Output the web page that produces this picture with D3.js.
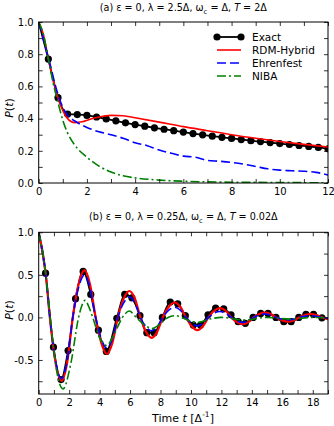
<!DOCTYPE html>
<html>
<head>
<meta charset="utf-8">
<script src="https://cdnjs.cloudflare.com/ajax/libs/d3/7.8.5/d3.min.js"></script>
<style>
  body { margin: 0; background: #fff; }
  text { font-family: "DejaVu Sans", sans-serif; fill: #000; }
</style>
</head>
<body>
<script>

// ---- panel (a) ----
var aExactT = [0, 0.4, 0.8, 1.2, 1.6, 2.0, 2.4, 2.8, 3.2, 3.6, 4.0, 4.4, 4.8, 5.2, 5.6, 6.0,
               6.4, 6.8, 7.2, 7.6, 8.0, 8.4, 8.8, 9.2, 9.6, 10.0, 10.4, 10.8, 11.2, 11.6, 12.0];
var aExactP = [1.0, 0.77, 0.53, 0.428, 0.425, 0.42, 0.41, 0.398, 0.386, 0.374, 0.363, 0.353, 0.343, 0.334, 0.325, 0.316,
               0.307, 0.299, 0.291, 0.284, 0.277, 0.270, 0.263, 0.257, 0.251, 0.245, 0.239, 0.233, 0.227, 0.221, 0.212];

var aRdmT = [0, 0.2, 0.4, 0.6, 0.8, 1.0, 1.2, 1.5, 1.8, 2.1, 2.5, 3.0, 3.5, 4.0, 5.0, 6.0, 7.0, 8.0, 9.0, 10.0, 11.0, 12.0];
var aRdmP = [1.0, 0.92, 0.77, 0.64, 0.53, 0.45, 0.40, 0.375, 0.38, 0.395, 0.41, 0.42, 0.418, 0.405, 0.378, 0.35, 0.325, 0.30, 0.278, 0.258, 0.24, 0.224];

var aEhrT = [0, 0.4, 0.8, 1.0, 1.2, 1.5, 2.0, 2.5, 3.0, 3.5, 4.0, 4.5, 5.0, 5.5, 6.0, 6.5, 7.0, 7.5, 8.0, 8.5, 9.0, 9.5, 10.0, 10.5, 11.0, 11.5, 12.0];
var aEhrP = [1.0, 0.78, 0.55, 0.47, 0.42, 0.385, 0.345, 0.318, 0.30, 0.278, 0.25, 0.232, 0.205, 0.185, 0.167, 0.16, 0.14, 0.135, 0.128, 0.117, 0.103, 0.088, 0.08, 0.076, 0.073, 0.066, 0.05];

var aNibaT = [0, 0.2, 0.4, 0.6, 0.8, 1.0, 1.2, 1.5, 2.0, 2.5, 3.0, 3.5, 4.0, 5.0, 6.0, 7.0, 8.0, 9.0, 10.0, 11.0, 12.0];
var aNibaP = [1.0, 0.92, 0.77, 0.62, 0.50, 0.39, 0.31, 0.235, 0.16, 0.105, 0.068, 0.045, 0.032, 0.018, 0.011, 0.007, 0.005, 0.004, 0.003, 0.002, 0.002];

// ---- panel (b) ----
var bExactT = [0, 0.45, 0.97, 1.47, 1.93, 2.42, 2.92, 3.42, 3.92, 4.44, 5.13, 5.65, 6.12, 6.65, 7.1, 7.58, 8.12, 8.64, 9.13,
               9.63, 10.15, 10.63, 11.12, 11.62, 12.15, 12.63, 13.1, 13.57, 14.08, 14.58, 15.06, 15.58, 16.1, 16.58, 17.08,
               17.55, 18.05, 18.6];
var bExactP = [1.0, 0.52, -0.35, -0.73, -0.39, 0.22, 0.54, 0.27, -0.15, -0.40, -0.01, 0.27, 0.23, 0.02, -0.18, -0.18, 0.0, 0.18, 0.16,
               0.02, -0.09, -0.09, 0.03, 0.11, 0.10, 0.03, -0.05, -0.07, 0.0, 0.047, 0.047, 0.0, -0.05, -0.05, 0.0,
               0.035, 0.035, -0.005];

var bRdmT = [0, 0.45, 0.73, 1.1, 1.5, 1.87, 2.24, 2.62, 3.0, 3.37, 3.74, 4.11, 4.48, 4.84, 5.2, 5.58, 5.95, 6.32, 6.68,
             7.05, 7.42, 7.78, 8.15, 8.54, 8.93, 9.3, 9.67, 10.05, 10.42, 10.78, 11.15, 11.52, 11.9, 12.28, 12.65,
             13.02, 13.4, 13.76, 14.12, 14.48, 14.85, 15.22, 15.6, 16.0, 16.38, 16.74, 17.1, 17.48, 17.85, 18.22, 18.6, 19.0];
var bRdmP = [1.0, 0.53, 0.0, -0.52, -0.745, -0.53, 0.0, 0.39, 0.555, 0.39, 0.0, -0.30, -0.43, -0.30, 0.0, 0.22, 0.31, 0.22, 0.0,
             -0.17, -0.24, -0.17, 0.0, 0.125, 0.175, 0.125, 0.0, -0.105, -0.15, -0.105, 0.0, 0.078, 0.11, 0.078, 0.0,
             -0.056, -0.08, -0.056, 0.0, 0.039, 0.055, 0.039, 0.0, -0.035, -0.05, -0.035, 0.0, 0.028, 0.04, 0.028, 0.0, -0.02];

var bEhrT = bRdmT;
var bEhrP = [1.0, 0.53, 0.0, -0.51, -0.72, -0.51, 0.0, 0.35, 0.50, 0.35, 0.0, -0.25, -0.36, -0.25, 0.0, 0.17, 0.24, 0.17, 0.0,
             -0.11, -0.16, -0.11, 0.0, 0.085, 0.12, 0.085, 0.0, -0.07, -0.10, -0.07, 0.0, 0.05, 0.07, 0.05, 0.0,
             -0.042, -0.06, -0.042, 0.0, 0.028, 0.04, 0.028, 0.0, -0.021, -0.03, -0.021, 0.0, 0.014, 0.02, 0.014, 0.0, -0.01];

var bNibaT = [0, 0.45, 0.75, 1.15, 1.6, 2.1, 2.62, 2.82, 3.05, 3.28, 3.55, 4.0, 4.45, 4.95, 5.5, 5.95, 6.4, 6.95, 7.45, 7.95,
              8.5, 9.0, 9.5, 10.4, 11.2, 12.0, 13.5, 15.0, 16.5, 18.0, 19.0];
var bNibaP = [1.0, 0.53, 0.0, -0.6, -0.84, -0.55, 0.0, 0.13, 0.20, 0.13, 0.0, -0.24, -0.33, -0.2, 0.0, 0.075, 0.0, -0.09, -0.13, -0.08,
              0.0, 0.02, -0.01, -0.06, -0.02, 0.0, -0.03, 0.0, -0.02, 0.0, -0.005];

var legendNames = ["Exact", "RDM-Hybrid", "Ehrenfest", "NIBA"];

var W = 334, H = 426;
var plotLeft = 38.7, plotRight = 328;

var svg = d3.select("body").append("svg")
            .attr("width", W)
            .attr("height", H);

function pts(t, p) { return d3.zip(t, p); }

function drawPanel(o) {
    var x = d3.scaleLinear().domain(o.xDomain).range([plotLeft, plotRight]);
    var y = d3.scaleLinear().domain(o.yDomain).range([o.bottom, o.top]);
    var g = svg.append("g");

    g.append("clipPath").attr("id", o.id + "clip")
     .append("rect")
     .attr("x", plotLeft).attr("y", o.top)
     .attr("width", plotRight - plotLeft).attr("height", o.bottom - o.top);

    var plot = g.append("g").attr("clip-path", "url(#" + o.id + "clip)");

    var line = d3.line()
                 .x(d => x(d[0]))
                 .y(d => y(d[1]))
                 .curve(d3.curveMonotoneX);

    plot.append("path").datum(pts(o.exactT, o.exactP))
        .attr("d", line).attr("fill", "none")
        .attr("stroke", "#000").attr("stroke-width", 1.8);

    plot.selectAll("circle.ex")
        .data(pts(o.exactT, o.exactP).slice(1))
        .enter().append("circle")
        .attr("class", "ex")
        .attr("cx", d => x(d[0]))
        .attr("cy", d => y(d[1]))
        .attr("r", 3.6)
        .attr("fill", "#000");

    plot.append("path").datum(pts(o.rdmT, o.rdmP))
        .attr("d", line).attr("fill", "none")
        .attr("stroke", "#ff0000").attr("stroke-width", o.redWidth);

    plot.append("path").datum(pts(o.ehrT, o.ehrP))
        .attr("d", line).attr("fill", "none")
        .attr("stroke", "#0000ff").attr("stroke-width", 1.6)
        .attr("stroke-dasharray", "9,4");

    plot.append("path").datum(pts(o.nibaT, o.nibaP))
        .attr("d", line).attr("fill", "none")
        .attr("stroke", "#008000").attr("stroke-width", 1.6)
        .attr("stroke-dasharray", "9,3,2,3");

    // axes, ticks pointing inward on all four sides
    g.append("g").attr("transform", "translate(0," + o.bottom + ")")
     .call(d3.axisBottom(x).tickValues(o.xTicks).tickSize(-4).tickPadding(5).tickFormat(o.xFmt));
    g.append("g").attr("transform", "translate(0," + o.top + ")")
     .call(d3.axisTop(x).tickValues(o.xTicks).tickSize(-4).tickFormat(""));
    g.append("g").attr("transform", "translate(" + plotLeft + ",0)")
     .call(d3.axisLeft(y).tickValues(o.yTicks).tickSize(-4).tickPadding(5).tickFormat(o.yFmt));
    g.append("g").attr("transform", "translate(" + plotRight + ",0)")
     .call(d3.axisRight(y).tickValues(o.yTicks).tickSize(-4).tickFormat(""));

    g.selectAll(".domain").remove();
    g.selectAll(".tick line").attr("stroke", "#000").attr("stroke-width", 0.8);
    g.selectAll(".tick text").attr("font-size", 10).attr("font-family", "DejaVu Sans").attr("fill", "#000");

    g.append("rect")
     .attr("x", plotLeft).attr("y", o.top)
     .attr("width", plotRight - plotLeft).attr("height", o.bottom - o.top)
     .attr("fill", "none").attr("stroke", "#000").attr("stroke-width", 1);

    // title
    var tt = g.append("text")
              .attr("x", (plotLeft + plotRight) / 2)
              .attr("y", o.titleY)
              .attr("text-anchor", "middle")
              .attr("font-size", 9.6);
    tt.append("tspan").text(o.title[0]);
    tt.append("tspan").attr("font-size", 6.8).attr("dy", 3).text("c");
    tt.append("tspan").attr("dy", -3).text(" = \u0394, ");
    tt.append("tspan").attr("font-style", "italic").text("T");
    tt.append("tspan").text(o.title[1]);

    // y label
    var yl = g.append("text")
              .attr("transform", "translate(" + 13 + "," + o.yLabelY + ") rotate(-90)")
              .attr("text-anchor", "middle")
              .attr("font-size", 11);
    yl.append("tspan").attr("font-style", "italic").text("P");
    yl.append("tspan").text("(");
    yl.append("tspan").attr("font-style", "italic").text("t");
    yl.append("tspan").text(")");

    return {x: x, y: y, g: g};
}

var fmt1 = d => d.toFixed(1);

drawPanel({
    id: "a", top: 22, bottom: 183,
    xDomain: [0, 12], yDomain: [0, 1],
    xTicks: d3.range(0, 13, 1),
    xFmt: d => (d % 2 === 0 ? d : ""),
    yTicks: d3.range(0, 11).map(d => d / 10),
    yFmt: d => (Math.round(d * 10) % 2 === 0 ? fmt1(d) : ""),
    exactT: aExactT, exactP: aExactP,
    rdmT: aRdmT, rdmP: aRdmP,
    ehrT: aEhrT, ehrP: aEhrP,
    nibaT: aNibaT, nibaP: aNibaP,
    redWidth: 1.6,
    titleY: 11,
    title: ["(a) \u03b5 = 0, \u03bb = 2.5\u0394, \u03c9", " = 2\u0394"],
    yLabelY: 108
});

drawPanel({
    id: "b", top: 232.3, bottom: 394,
    xDomain: [0, 19], yDomain: [-0.9, 1],
    xTicks: d3.range(0, 20, 1),
    xFmt: d => (d % 2 === 0 ? d : ""),
    yTicks: [-0.75, -0.5, -0.25, 0, 0.25, 0.5, 0.75, 1.0],
    yFmt: d => (Math.round(d * 4) % 2 === 0 ? fmt1(d) : ""),
    exactT: bExactT, exactP: bExactP,
    rdmT: bRdmT, rdmP: bRdmP,
    ehrT: bEhrT, ehrP: bEhrP,
    nibaT: bNibaT, nibaP: bNibaP,
    redWidth: 2.2,
    titleY: 220,
    title: ["(b) \u03b5 = 0, \u03bb = 0.25\u0394, \u03c9", " = 0.02\u0394"],
    yLabelY: 310
});

// x label
var xl = svg.append("text")
            .attr("x", 183).attr("y", 422)
            .attr("text-anchor", "middle")
            .attr("font-size", 11);
xl.append("tspan").text("Time ");
xl.append("tspan").attr("font-style", "italic").text("t");
xl.append("tspan").text(" [\u0394");
xl.append("tspan").attr("font-size", 7.5).attr("dy", -5).text("-1");
xl.append("tspan").attr("dy", 5).text("]");

// legend in panel (a)
var legStyles = [
    {color: "#000", dash: null, w: 1.8},
    {color: "#ff0000", dash: null, w: 1.6},
    {color: "#0000ff", dash: "9,4", w: 1.6},
    {color: "#008000", dash: "9,3,2,3", w: 1.6}
];
var leg = svg.append("g");
legendNames.forEach(function(name, i) {
    var yy = 37 + i * 13;
    leg.append("line")
       .attr("x1", 217).attr("x2", 241)
       .attr("y1", yy).attr("y2", yy)
       .attr("stroke", legStyles[i].color)
       .attr("stroke-width", legStyles[i].w)
       .attr("stroke-dasharray", legStyles[i].dash);
    if (i === 0) {
        leg.append("circle").attr("cx", 217).attr("cy", yy).attr("r", 3.6).attr("fill", "#000");
        leg.append("circle").attr("cx", 241).attr("cy", yy).attr("r", 3.6).attr("fill", "#000");
    }
    leg.append("text")
       .attr("x", 252).attr("y", yy + 3.8)
       .attr("font-size", 10.5)
       .text(name);
});

</script>
</body>
</html>
